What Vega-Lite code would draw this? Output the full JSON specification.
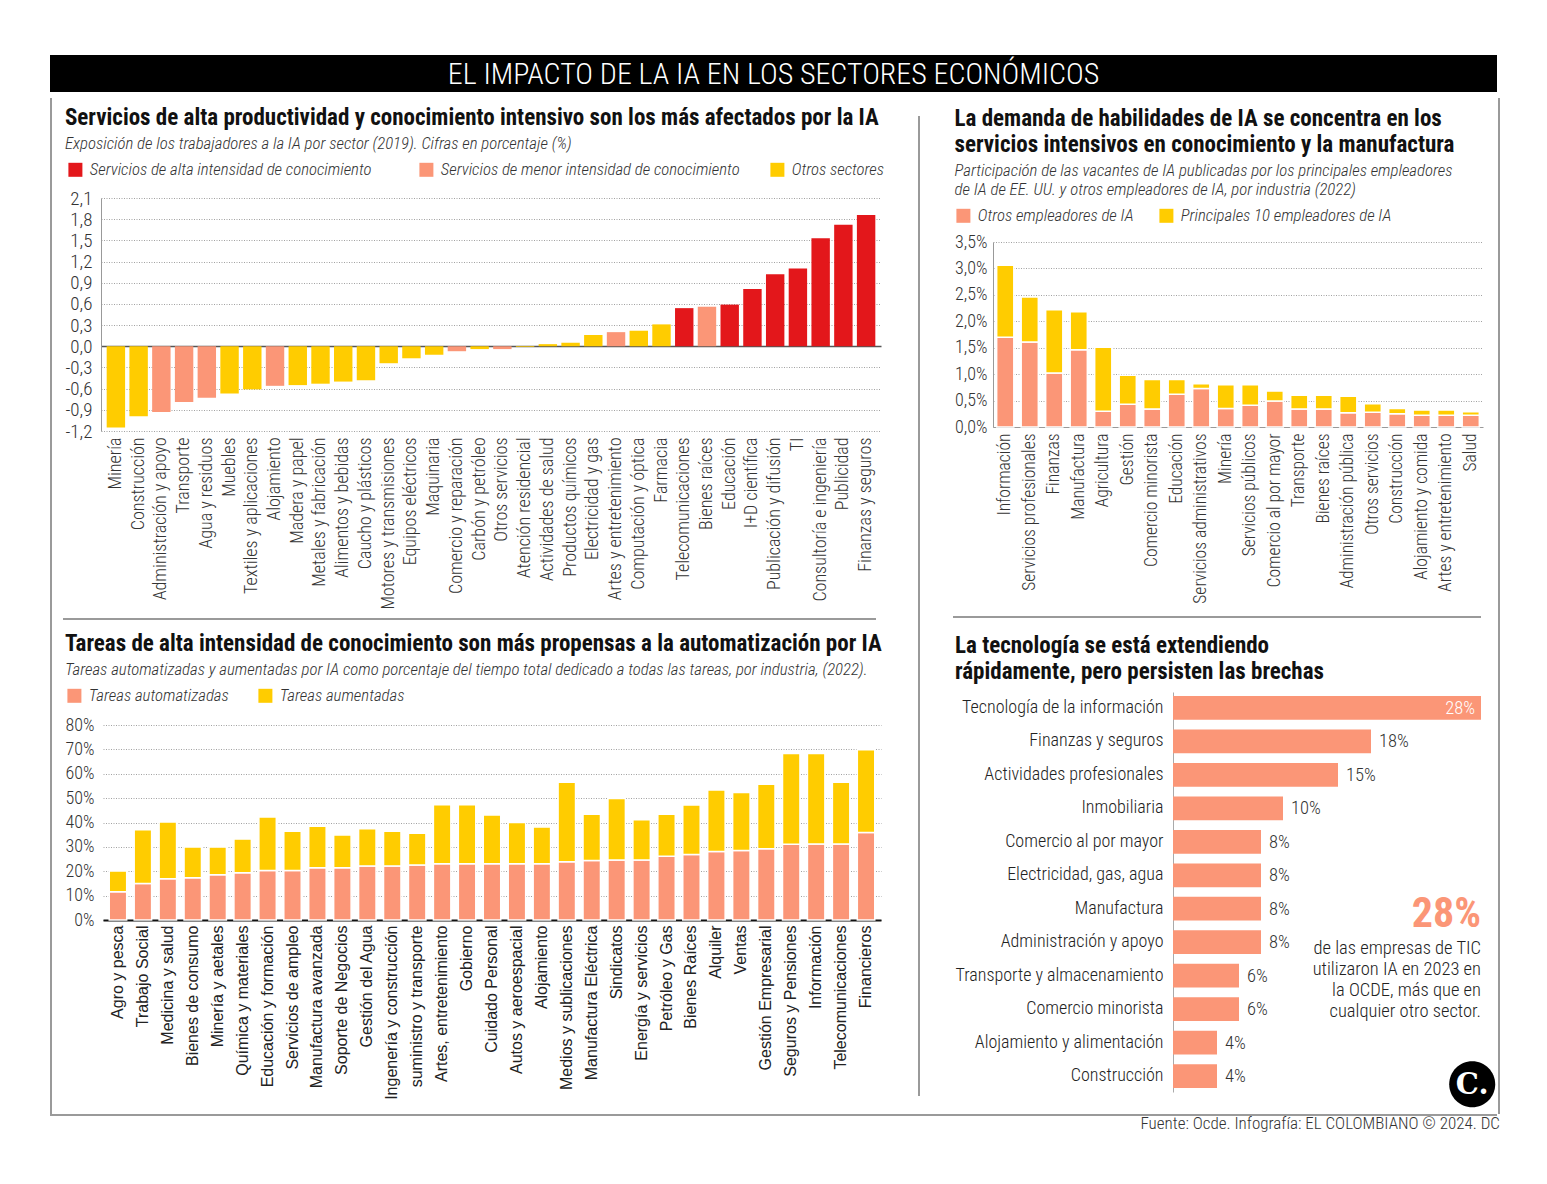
{
  "$schema": "https://vega.github.io/schema/vega-lite/v6.json",
  "background": "white",
  "autosize": {"type": "pad"},
  "padding": {"left": 50, "top": 55, "right": 48, "bottom": 40},
  "config": {
    "font": "Roboto Condensed, Liberation Sans Narrow, DejaVu Sans Condensed, Roboto, sans-serif",
    "view": {"stroke": null},
    "axis": {"labelFont": "Roboto Condensed, Liberation Sans Narrow, DejaVu Sans Condensed, Roboto, sans-serif", "labelFontWeight": 300, "labelColor": "#333", "ticks": false, "gridColor": "#8a8a8a", "gridDash": [1, 1.5], "gridWidth": 0.8, "domainColor": "#999", "labelOverlap": false, "labelLimit": 300},
    "legend": {"labelFont": "Roboto Condensed, Liberation Sans Narrow, DejaVu Sans Condensed, Roboto, sans-serif", "labelFontWeight": 300, "labelFontSize": 16.8, "labelFontStyle": "italic", "labelColor": "#333", "symbolType": "square", "symbolSize": 196, "symbolStrokeWidth": 0, "labelLimit": 400, "labelOffset": 6},
    "title": {"font": "Roboto Condensed, Liberation Sans Narrow, DejaVu Sans Condensed, Roboto, sans-serif", "fontSize": 23, "fontWeight": "bold", "color": "#111", "subtitleFont": "Roboto Condensed, Liberation Sans Narrow, DejaVu Sans Condensed, Roboto, sans-serif", "subtitleFontSize": 16.8, "subtitleFontStyle": "italic", "subtitleFontWeight": 300, "subtitleColor": "#333", "subtitlePadding": 6, "anchor": "start", "frame": "bounds", "lineHeight": 26, "subtitleLineHeight": 19.5},
    "locale": {"number": {"decimal": ",", "thousands": ".", "grouping": [3], "currency": ["$", ""], "minus": "-"}}
  },
  "title": {"text": "Fuente: Ocde. Infografía: EL COLOMBIANO © 2024. DC", "orient": "bottom", "anchor": "end", "frame": "bounds", "fontSize": 17, "fontWeight": 300, "color": "#333", "offset": -4},
  "datasets": {
    "exposicion": [
      {"sector": "Minería", "valor": -1.15, "grupo": "Otros sectores"},
      {"sector": "Construcción", "valor": -0.99, "grupo": "Otros sectores"},
      {"sector": "Administración y apoyo", "valor": -0.93, "grupo": "Servicios de menor intensidad de conocimiento"},
      {"sector": "Transporte", "valor": -0.79, "grupo": "Servicios de menor intensidad de conocimiento"},
      {"sector": "Agua y residuos", "valor": -0.73, "grupo": "Servicios de menor intensidad de conocimiento"},
      {"sector": "Muebles", "valor": -0.67, "grupo": "Otros sectores"},
      {"sector": "Textiles y aplicaciones", "valor": -0.61, "grupo": "Otros sectores"},
      {"sector": "Alojamiento", "valor": -0.56, "grupo": "Servicios de menor intensidad de conocimiento"},
      {"sector": "Madera y papel", "valor": -0.55, "grupo": "Otros sectores"},
      {"sector": "Metales y fabricación", "valor": -0.53, "grupo": "Otros sectores"},
      {"sector": "Alimentos y bebidas", "valor": -0.50, "grupo": "Otros sectores"},
      {"sector": "Caucho y plásticos", "valor": -0.48, "grupo": "Otros sectores"},
      {"sector": "Motores y transmisiones", "valor": -0.24, "grupo": "Otros sectores"},
      {"sector": "Equipos eléctricos", "valor": -0.17, "grupo": "Otros sectores"},
      {"sector": "Maquinaria", "valor": -0.12, "grupo": "Otros sectores"},
      {"sector": "Comercio y reparación", "valor": -0.07, "grupo": "Servicios de menor intensidad de conocimiento"},
      {"sector": "Carbón y petróleo", "valor": -0.04, "grupo": "Otros sectores"},
      {"sector": "Otros servicios", "valor": -0.04, "grupo": "Servicios de menor intensidad de conocimiento"},
      {"sector": "Atención residencial", "valor": -0.01, "grupo": "Otros sectores"},
      {"sector": "Actividades de salud", "valor": 0.03, "grupo": "Otros sectores"},
      {"sector": "Productos químicos", "valor": 0.05, "grupo": "Otros sectores"},
      {"sector": "Electricidad y gas", "valor": 0.16, "grupo": "Otros sectores"},
      {"sector": "Artes y entretenimiento", "valor": 0.20, "grupo": "Servicios de menor intensidad de conocimiento"},
      {"sector": "Computación y óptica", "valor": 0.22, "grupo": "Otros sectores"},
      {"sector": "Farmacia", "valor": 0.31, "grupo": "Otros sectores"},
      {"sector": "Telecomunicaciones", "valor": 0.54, "grupo": "Servicios de alta intensidad de conocimiento"},
      {"sector": "Bienes raíces", "valor": 0.56, "grupo": "Servicios de menor intensidad de conocimiento"},
      {"sector": "Educación", "valor": 0.59, "grupo": "Servicios de alta intensidad de conocimiento"},
      {"sector": "I+D científica", "valor": 0.81, "grupo": "Servicios de alta intensidad de conocimiento"},
      {"sector": "Publicación y difusión", "valor": 1.02, "grupo": "Servicios de alta intensidad de conocimiento"},
      {"sector": "TI", "valor": 1.10, "grupo": "Servicios de alta intensidad de conocimiento"},
      {"sector": "Consultoría e ingeniería", "valor": 1.53, "grupo": "Servicios de alta intensidad de conocimiento"},
      {"sector": "Publicidad", "valor": 1.72, "grupo": "Servicios de alta intensidad de conocimiento"},
      {"sector": "Finanzas y seguros", "valor": 1.86, "grupo": "Servicios de alta intensidad de conocimiento"}
    ],
    "vacantes": [
      {"industria": "Información", "tipo": "Otros empleadores de IA", "valor": 0.0170},
      {"industria": "Información", "tipo": "Principales 10 empleadores de IA", "valor": 0.0136},
      {"industria": "Servicios profesionales", "tipo": "Otros empleadores de IA", "valor": 0.0161},
      {"industria": "Servicios profesionales", "tipo": "Principales 10 empleadores de IA", "valor": 0.0085},
      {"industria": "Finanzas", "tipo": "Otros empleadores de IA", "valor": 0.0102},
      {"industria": "Finanzas", "tipo": "Principales 10 empleadores de IA", "valor": 0.0120},
      {"industria": "Manufactura", "tipo": "Otros empleadores de IA", "valor": 0.0146},
      {"industria": "Manufactura", "tipo": "Principales 10 empleadores de IA", "valor": 0.0072},
      {"industria": "Agricultura", "tipo": "Otros empleadores de IA", "valor": 0.0030},
      {"industria": "Agricultura", "tipo": "Principales 10 empleadores de IA", "valor": 0.0121},
      {"industria": "Gestión", "tipo": "Otros empleadores de IA", "valor": 0.0043},
      {"industria": "Gestión", "tipo": "Principales 10 empleadores de IA", "valor": 0.0055},
      {"industria": "Comercio minorista", "tipo": "Otros empleadores de IA", "valor": 0.0034},
      {"industria": "Comercio minorista", "tipo": "Principales 10 empleadores de IA", "valor": 0.0056},
      {"industria": "Educación", "tipo": "Otros empleadores de IA", "valor": 0.0062},
      {"industria": "Educación", "tipo": "Principales 10 empleadores de IA", "valor": 0.0028},
      {"industria": "Servicios administrativos", "tipo": "Otros empleadores de IA", "valor": 0.0073},
      {"industria": "Servicios administrativos", "tipo": "Principales 10 empleadores de IA", "valor": 0.0009},
      {"industria": "Minería", "tipo": "Otros empleadores de IA", "valor": 0.0035},
      {"industria": "Minería", "tipo": "Principales 10 empleadores de IA", "valor": 0.0045},
      {"industria": "Servicios públicos", "tipo": "Otros empleadores de IA", "valor": 0.0041},
      {"industria": "Servicios públicos", "tipo": "Principales 10 empleadores de IA", "valor": 0.0039},
      {"industria": "Comercio al por mayor", "tipo": "Otros empleadores de IA", "valor": 0.0049},
      {"industria": "Comercio al por mayor", "tipo": "Principales 10 empleadores de IA", "valor": 0.0019},
      {"industria": "Transporte", "tipo": "Otros empleadores de IA", "valor": 0.0034},
      {"industria": "Transporte", "tipo": "Principales 10 empleadores de IA", "valor": 0.0026},
      {"industria": "Bienes raíces", "tipo": "Otros empleadores de IA", "valor": 0.0034},
      {"industria": "Bienes raíces", "tipo": "Principales 10 empleadores de IA", "valor": 0.0026},
      {"industria": "Administración pública", "tipo": "Otros empleadores de IA", "valor": 0.0027},
      {"industria": "Administración pública", "tipo": "Principales 10 empleadores de IA", "valor": 0.0031},
      {"industria": "Otros servicios", "tipo": "Otros empleadores de IA", "valor": 0.0028},
      {"industria": "Otros servicios", "tipo": "Principales 10 empleadores de IA", "valor": 0.0016},
      {"industria": "Construcción", "tipo": "Otros empleadores de IA", "valor": 0.0025},
      {"industria": "Construcción", "tipo": "Principales 10 empleadores de IA", "valor": 0.0010},
      {"industria": "Alojamiento y comida", "tipo": "Otros empleadores de IA", "valor": 0.0022},
      {"industria": "Alojamiento y comida", "tipo": "Principales 10 empleadores de IA", "valor": 0.0010},
      {"industria": "Artes y entretenimiento", "tipo": "Otros empleadores de IA", "valor": 0.0022},
      {"industria": "Artes y entretenimiento", "tipo": "Principales 10 empleadores de IA", "valor": 0.0010},
      {"industria": "Salud", "tipo": "Otros empleadores de IA", "valor": 0.0022},
      {"industria": "Salud", "tipo": "Principales 10 empleadores de IA", "valor": 0.0007}
    ],
    "tareas": [
      {"industria": "Agro y pesca", "tipo": "Tareas automatizadas", "valor": 0.116},
      {"industria": "Agro y pesca", "tipo": "Tareas aumentadas", "valor": 0.085},
      {"industria": "Trabajo Social", "tipo": "Tareas automatizadas", "valor": 0.150},
      {"industria": "Trabajo Social", "tipo": "Tareas aumentadas", "valor": 0.220},
      {"industria": "Medicina y salud", "tipo": "Tareas automatizadas", "valor": 0.169},
      {"industria": "Medicina y salud", "tipo": "Tareas aumentadas", "valor": 0.233},
      {"industria": "Bienes de consumo", "tipo": "Tareas automatizadas", "valor": 0.173},
      {"industria": "Bienes de consumo", "tipo": "Tareas aumentadas", "valor": 0.126},
      {"industria": "Minería y aetales", "tipo": "Tareas automatizadas", "valor": 0.186},
      {"industria": "Minería y aetales", "tipo": "Tareas aumentadas", "valor": 0.113},
      {"industria": "Química y materiales", "tipo": "Tareas automatizadas", "valor": 0.194},
      {"industria": "Química y materiales", "tipo": "Tareas aumentadas", "valor": 0.138},
      {"industria": "Educación y formación", "tipo": "Tareas automatizadas", "valor": 0.203},
      {"industria": "Educación y formación", "tipo": "Tareas aumentadas", "valor": 0.220},
      {"industria": "Servicios de ampleo", "tipo": "Tareas automatizadas", "valor": 0.203},
      {"industria": "Servicios de ampleo", "tipo": "Tareas aumentadas", "valor": 0.161},
      {"industria": "Manufactura avanzada", "tipo": "Tareas automatizadas", "valor": 0.214},
      {"industria": "Manufactura avanzada", "tipo": "Tareas aumentadas", "valor": 0.171},
      {"industria": "Soporte de Negocios", "tipo": "Tareas automatizadas", "valor": 0.214},
      {"industria": "Soporte de Negocios", "tipo": "Tareas aumentadas", "valor": 0.135},
      {"industria": "Gestión del Agua", "tipo": "Tareas automatizadas", "valor": 0.222},
      {"industria": "Gestión del Agua", "tipo": "Tareas aumentadas", "valor": 0.152},
      {"industria": "Ingenería y construcción", "tipo": "Tareas automatizadas", "valor": 0.222},
      {"industria": "Ingenería y construcción", "tipo": "Tareas aumentadas", "valor": 0.142},
      {"industria": "suministro y transporte", "tipo": "Tareas automatizadas", "valor": 0.226},
      {"industria": "suministro y transporte", "tipo": "Tareas aumentadas", "valor": 0.130},
      {"industria": "Artes, entretenimiento", "tipo": "Tareas automatizadas", "valor": 0.231},
      {"industria": "Artes, entretenimiento", "tipo": "Tareas aumentadas", "valor": 0.242},
      {"industria": "Gobierno", "tipo": "Tareas automatizadas", "valor": 0.231},
      {"industria": "Gobierno", "tipo": "Tareas aumentadas", "valor": 0.242},
      {"industria": "Cuidado Personal", "tipo": "Tareas automatizadas", "valor": 0.231},
      {"industria": "Cuidado Personal", "tipo": "Tareas aumentadas", "valor": 0.200},
      {"industria": "Autos y aeroespacial", "tipo": "Tareas automatizadas", "valor": 0.231},
      {"industria": "Autos y aeroespacial", "tipo": "Tareas aumentadas", "valor": 0.169},
      {"industria": "Alojamiento", "tipo": "Tareas automatizadas", "valor": 0.231},
      {"industria": "Alojamiento", "tipo": "Tareas aumentadas", "valor": 0.151},
      {"industria": "Medios y sublicaciones", "tipo": "Tareas automatizadas", "valor": 0.239},
      {"industria": "Medios y sublicaciones", "tipo": "Tareas aumentadas", "valor": 0.326},
      {"industria": "Manufactura Eléctrica", "tipo": "Tareas automatizadas", "valor": 0.244},
      {"industria": "Manufactura Eléctrica", "tipo": "Tareas aumentadas", "valor": 0.190},
      {"industria": "Sindicatos", "tipo": "Tareas automatizadas", "valor": 0.246},
      {"industria": "Sindicatos", "tipo": "Tareas aumentadas", "valor": 0.252},
      {"industria": "Energía y servicios", "tipo": "Tareas automatizadas", "valor": 0.246},
      {"industria": "Energía y servicios", "tipo": "Tareas aumentadas", "valor": 0.165},
      {"industria": "Petróleo y Gas", "tipo": "Tareas automatizadas", "valor": 0.262},
      {"industria": "Petróleo y Gas", "tipo": "Tareas aumentadas", "valor": 0.172},
      {"industria": "Bienes Raíces", "tipo": "Tareas automatizadas", "valor": 0.269},
      {"industria": "Bienes Raíces", "tipo": "Tareas aumentadas", "valor": 0.203},
      {"industria": "Alquiler", "tipo": "Tareas automatizadas", "valor": 0.281},
      {"industria": "Alquiler", "tipo": "Tareas aumentadas", "valor": 0.252},
      {"industria": "Ventas", "tipo": "Tareas automatizadas", "valor": 0.285},
      {"industria": "Ventas", "tipo": "Tareas aumentadas", "valor": 0.238},
      {"industria": "Gestión Empresarial", "tipo": "Tareas automatizadas", "valor": 0.292},
      {"industria": "Gestión Empresarial", "tipo": "Tareas aumentadas", "valor": 0.265},
      {"industria": "Seguros y Pensiones", "tipo": "Tareas automatizadas", "valor": 0.311},
      {"industria": "Seguros y Pensiones", "tipo": "Tareas aumentadas", "valor": 0.372},
      {"industria": "Información", "tipo": "Tareas automatizadas", "valor": 0.312},
      {"industria": "Información", "tipo": "Tareas aumentadas", "valor": 0.371},
      {"industria": "Telecomunicaciones", "tipo": "Tareas automatizadas", "valor": 0.312},
      {"industria": "Telecomunicaciones", "tipo": "Tareas aumentadas", "valor": 0.253},
      {"industria": "Financieros", "tipo": "Tareas automatizadas", "valor": 0.359},
      {"industria": "Financieros", "tipo": "Tareas aumentadas", "valor": 0.339}
    ],
    "adopcion": [
      {"sector": "Tecnología de la información", "valor": 0.28},
      {"sector": "Finanzas y seguros", "valor": 0.18},
      {"sector": "Actividades profesionales", "valor": 0.15},
      {"sector": "Inmobiliaria", "valor": 0.10},
      {"sector": "Comercio al por mayor", "valor": 0.08},
      {"sector": "Electricidad, gas, agua", "valor": 0.08},
      {"sector": "Manufactura", "valor": 0.08},
      {"sector": "Administración y apoyo", "valor": 0.08},
      {"sector": "Transporte y almacenamiento", "valor": 0.06},
      {"sector": "Comercio minorista", "valor": 0.06},
      {"sector": "Alojamiento y alimentación", "valor": 0.04},
      {"sector": "Construcción", "valor": 0.04}
    ]
  },
  "resolve": {"scale": {"color": "independent", "x": "independent", "y": "independent"}, "legend": {"color": "independent"}},
  "columns": 1,
  "align": "each",
  "spacing": 0,
  "concat": [
    {
      "width": 1447, "height": 37,
      "view": {"fill": "#000000", "stroke": null},
      "data": {"values": [{"t": "EL IMPACTO DE LA IA EN LOS SECTORES ECONÓMICOS"}]},
      "mark": {"type": "text", "color": "white", "fontSize": 30, "fontWeight": 300, "align": "center", "baseline": "middle", "dy": 1},
      "encoding": {"text": {"field": "t"}}
    },
    {
      "columns": 1, "align": "each", "spacing": -20,
      "resolve": {"scale": {"color": "independent", "x": "independent", "y": "independent"}, "legend": {"color": "independent"}},
      "concat": [
        {
          "columns": 2, "align": "each", "spacing": 2,
          "resolve": {"scale": {"color": "independent", "x": "independent", "y": "independent"}, "legend": {"color": "independent"}},
          "concat": [
            {
              "columns": 2, "align": "each", "spacing": 11,
              "resolve": {"scale": {"color": "independent", "x": "independent", "y": "independent"}, "legend": {"color": "independent"}},
              "concat": [
                {
                  "width": 2, "height": 1016,
                  "view": {"fill": "#9a9a9a", "stroke": null},
                  "data": {"values": [{"a": 1}]},
                  "mark": {"type": "text"},
                  "encoding": {"text": {"value": ""}}
                },
                {
                  "columns": 3, "align": "each", "spacing": 33,
                  "resolve": {"scale": {"color": "independent", "x": "independent", "y": "independent"}, "legend": {"color": "independent"}},
                  "concat": [
                    {
                      "columns": 1, "align": "each", "spacing": 3,
                      "resolve": {"scale": {"color": "independent", "x": "independent", "y": "independent"}, "legend": {"color": "independent"}},
                      "concat": [
                        {
                          "columns": 2, "align": "each", "spacing": 0,
                          "resolve": {"scale": {"color": "independent", "x": "independent", "y": "independent"}, "legend": {"color": "independent"}},
                          "concat": [
                            {"width": 1, "height": 8, "data": {"values": [{"a": 1}]}, "mark": {"type": "text"}, "encoding": {"text": {"value": ""}}},
                            {"width": 1, "height": 1, "data": {"values": [{"a": 1}]}, "mark": {"type": "text"}, "encoding": {"text": {"value": ""}}},
                            {"width": 1, "height": 1, "data": {"values": [{"a": 1}]}, "mark": {"type": "text"}, "encoding": {"text": {"value": ""}}},
                            {
                              "width": 780, "height": 233,
                              "title": {"text": "Servicios de alta productividad y conocimiento intensivo son los más afectados por la IA", "subtitle": "Exposición de los trabajadores a la IA por sector (2019). Cifras en porcentaje (%)", "offset": 8},
                              "data": {"name": "exposicion"},
                              "mark": {"type": "bar"},
                              "encoding": {
                                "x": {"field": "sector", "type": "nominal", "sort": null, "title": null, "scale": {"paddingInner": 0.19, "paddingOuter": 0.25}, "axis": {"labelAngle": -90, "labelAlign": "right", "labelBaseline": "middle", "labelPadding": 6, "domain": false, "labelFontSize": 18}},
                                "y": {"field": "valor", "type": "quantitative", "title": null, "scale": {"domain": [-1.2, 2.1], "nice": false, "zero": false}, "axis": {"values": [-1.2, -0.9, -0.6, -0.3, 0, 0.3, 0.6, 0.9, 1.2, 1.5, 1.8, 2.1], "format": ".1f", "grid": true, "gridColor": {"condition": {"test": "abs(datum.value) < 0.001", "value": "#555"}, "value": "#8a8a8a"}, "gridDash": {"condition": {"test": "abs(datum.value) < 0.001", "value": []}, "value": [1, 1.5]}, "gridWidth": {"condition": {"test": "abs(datum.value) < 0.001", "value": 1.3}, "value": 0.8}, "domain": true, "labelFontSize": 19, "labelPadding": 9}},
                                "color": {"field": "grupo", "type": "nominal", "title": null, "scale": {"domain": ["Servicios de alta intensidad de conocimiento", "Servicios de menor intensidad de conocimiento", "Otros sectores"], "range": ["#e3171b", "#fb9677", "#ffcc00"]}, "legend": {"orient": "none", "legendX": -34, "legendY": -37, "direction": "horizontal", "columns": 3, "gridAlign": "all", "columnPadding": 29}}
                              }
                            }
                          ]
                        },
                        {
                          "columns": 1, "align": "each", "spacing": -3,
                          "resolve": {"scale": {"color": "independent", "x": "independent", "y": "independent"}, "legend": {"color": "independent"}},
                          "concat": [
                            {
                              "width": 813, "height": 2,
                              "view": {"fill": "#9a9a9a", "stroke": null},
                              "data": {"values": [{"a": 1}]},
                              "mark": {"type": "text"},
                              "encoding": {"text": {"value": ""}}
                            },
                            {
                              "columns": 2, "align": "each", "spacing": 0,
                              "resolve": {"scale": {"color": "independent", "x": "independent", "y": "independent"}, "legend": {"color": "independent"}},
                              "concat": [
                                {"width": 1, "height": 1, "data": {"values": [{"a": 1}]}, "mark": {"type": "text"}, "encoding": {"text": {"value": ""}}},
                                {"width": 1, "height": 1, "data": {"values": [{"a": 1}]}, "mark": {"type": "text"}, "encoding": {"text": {"value": ""}}},
                                {"width": 1, "height": 1, "data": {"values": [{"a": 1}]}, "mark": {"type": "text"}, "encoding": {"text": {"value": ""}}},
                                {
                                  "width": 778, "height": 195,
                                  "title": {"text": "Tareas de alta intensidad de conocimiento son más propensas a la automatización por IA", "subtitle": "Tareas automatizadas y aumentadas por IA como porcentaje del tiempo total dedicado a todas las tareas, por industria, (2022).", "offset": 8},
                                  "data": {"name": "tareas"},
                                  "mark": {"type": "bar", "stroke": "white", "strokeWidth": 1.5},
                                  "encoding": {
                                    "x": {"field": "industria", "type": "nominal", "sort": null, "title": null, "scale": {"paddingInner": 0.3, "paddingOuter": 0.25}, "axis": {"labelAngle": -90, "labelAlign": "right", "labelBaseline": "middle", "labelFont": "Liberation Sans, Arial, sans-serif", "labelFontWeight": "normal", "labelFontSize": 16, "labelColor": "#222", "domain": true, "domainColor": "#111", "domainWidth": 2, "labelPadding": 5}},
                                    "y": {"field": "valor", "type": "quantitative", "stack": "zero", "title": null, "scale": {"domain": [0, 0.8], "nice": false}, "axis": {"format": ".0%", "values": [0, 0.1, 0.2, 0.3, 0.4, 0.5, 0.6, 0.7, 0.8], "grid": true, "domain": false, "labelFontSize": 18, "labelPadding": 9}},
                                    "color": {"field": "tipo", "type": "nominal", "title": null, "scale": {"domain": ["Tareas automatizadas", "Tareas aumentadas"], "range": ["#fb9677", "#ffcc00"]}, "legend": {"orient": "none", "legendX": -37, "legendY": -38, "direction": "horizontal", "columnPadding": 28}},
                                    "order": {"field": "tipo", "sort": "descending"}
                                  }
                                }
                              ]
                            }
                          ]
                        }
                      ]
                    },
                    {
                      "columns": 1, "align": "each", "spacing": 0,
                      "concat": [
                        {"width": 1, "height": 18, "data": {"values": [{"a": 1}]}, "mark": {"type": "text"}, "encoding": {"text": {"value": ""}}},
                        {
                          "width": 2, "height": 980,
                          "view": {"fill": "#9a9a9a", "stroke": null},
                          "data": {"values": [{"a": 1}]},
                          "mark": {"type": "text"},
                          "encoding": {"text": {"value": ""}}
                        }
                      ]
                    },
                    {
                      "columns": 1, "align": "each", "spacing": 7,
                      "resolve": {"scale": {"color": "independent", "x": "independent", "y": "independent"}, "legend": {"color": "independent"}},
                      "concat": [
                        {
                          "columns": 2, "align": "each", "spacing": 0,
                          "resolve": {"scale": {"color": "independent", "x": "independent", "y": "independent"}, "legend": {"color": "independent"}},
                          "concat": [
                            {"width": 1, "height": 7, "data": {"values": [{"a": 1}]}, "mark": {"type": "text"}, "encoding": {"text": {"value": ""}}},
                            {"width": 1, "height": 1, "data": {"values": [{"a": 1}]}, "mark": {"type": "text"}, "encoding": {"text": {"value": ""}}},
                            {"width": 1, "height": 1, "data": {"values": [{"a": 1}]}, "mark": {"type": "text"}, "encoding": {"text": {"value": ""}}},
                            {
                              "width": 490, "height": 185,
                              "title": {"text": ["La demanda de habilidades de IA se concentra en los", "servicios intensivos en conocimiento y la manufactura"], "subtitle": ["Participación de las vacantes de IA publicadas por los principales empleadores", "de IA de EE. UU. y otros empleadores de IA, por industria (2022)"], "offset": 8},
                              "data": {"name": "vacantes"},
                              "mark": {"type": "bar", "stroke": "white", "strokeWidth": 1.5},
                              "encoding": {
                                "x": {"field": "industria", "type": "nominal", "sort": null, "title": null, "scale": {"paddingInner": 0.3, "paddingOuter": 0.15}, "axis": {"labelAngle": -90, "labelAlign": "right", "labelBaseline": "middle", "labelPadding": 6, "domain": true, "domainColor": "#999", "labelFontSize": 17.5}},
                                "y": {"field": "valor", "type": "quantitative", "stack": "zero", "title": null, "scale": {"domain": [0, 0.035], "nice": false}, "axis": {"format": ".1%", "values": [0, 0.005, 0.01, 0.015, 0.02, 0.025, 0.03, 0.035], "grid": true, "domain": true, "labelFontSize": 18, "labelPadding": 6}},
                                "color": {"field": "tipo", "type": "nominal", "title": null, "scale": {"domain": ["Otros empleadores de IA", "Principales 10 empleadores de IA"], "range": ["#fb9677", "#ffcc00"]}, "legend": {"orient": "none", "legendX": -38, "legendY": -35, "direction": "horizontal", "columnPadding": 24}},
                                "order": {"field": "tipo", "sort": "ascending"}
                              }
                            }
                          ]
                        },
                        {
                          "columns": 1, "align": "each", "spacing": 1,
                          "resolve": {"scale": {"color": "independent", "x": "independent", "y": "independent"}, "legend": {"color": "independent"}},
                          "concat": [
                            {
                              "width": 528, "height": 2,
                              "view": {"fill": "#9a9a9a", "stroke": null},
                              "data": {"values": [{"a": 1}]},
                              "mark": {"type": "text"},
                              "encoding": {"text": {"value": ""}}
                            },
                            {
                              "columns": 2, "align": "each", "spacing": 0,
                              "resolve": {"scale": {"color": "independent", "x": "independent", "y": "independent"}, "legend": {"color": "independent"}},
                              "concat": [
                                {"width": 1, "height": 1, "data": {"values": [{"a": 1}]}, "mark": {"type": "text"}, "encoding": {"text": {"value": ""}}},
                                {"width": 1, "height": 1, "data": {"values": [{"a": 1}]}, "mark": {"type": "text"}, "encoding": {"text": {"value": ""}}},
                                {"width": 1, "height": 1, "data": {"values": [{"a": 1}]}, "mark": {"type": "text"}, "encoding": {"text": {"value": ""}}},
                                {
                                  "width": 308, "height": 400,
                                  "title": {"text": ["La tecnología se está extendiendo", "rápidamente, pero persisten las brechas"], "offset": 8},
                                  "data": {"name": "adopcion"},
                                  "encoding": {
                                    "y": {"field": "sector", "type": "nominal", "sort": null, "title": null, "scale": {"paddingInner": 0.29, "paddingOuter": 0.12}, "axis": {"labelFontSize": 18, "labelColor": "#222", "labelPadding": 10, "domain": true, "domainColor": "#aaa"}},
                                    "x": {"field": "valor", "type": "quantitative", "title": null, "scale": {"domain": [0, 0.28], "nice": false}, "axis": null}
                                  },
                                  "layer": [
                                    {"mark": {"type": "bar", "color": "#fb9677"}},
                                    {
                                      "transform": [{"filter": "datum.valor < 0.28"}],
                                      "mark": {"type": "text", "align": "left", "baseline": "middle", "dx": 8, "fontSize": 18.5, "fontWeight": 300, "color": "#333"},
                                      "encoding": {"text": {"field": "valor", "type": "quantitative", "format": ".0%"}}
                                    },
                                    {
                                      "transform": [{"filter": "datum.valor >= 0.28"}],
                                      "mark": {"type": "text", "align": "right", "baseline": "middle", "dx": -6, "fontSize": 18.5, "fontWeight": 300, "color": "white"},
                                      "encoding": {"text": {"field": "valor", "type": "quantitative", "format": ".0%"}}
                                    },
                                    {
                                      "transform": [{"filter": "datum.sector === 'Manufactura'"}],
                                      "mark": {"type": "text", "align": "right", "baseline": "middle", "dy": 5, "fontSize": 42, "fontWeight": "bold", "color": "#fb9677"},
                                      "encoding": {"x": {"datum": 0.28}, "text": {"value": "28%"}}
                                    },
                                    {
                                      "transform": [{"filter": "datum.sector === 'Administración y apoyo'"}],
                                      "mark": {"type": "text", "align": "right", "baseline": "middle", "dy": 6, "fontSize": 18.5, "fontWeight": 300, "lineHeight": 21, "color": "#222"},
                                      "encoding": {"x": {"datum": 0.28}, "text": {"value": ["de las empresas de TIC", "utilizaron IA en 2023 en", "la OCDE, más que en", "cualquier otro sector."]}}
                                    },
                                    {
                                      "transform": [{"filter": "datum.sector === 'Construcción'"}],
                                      "mark": {"type": "point", "filled": true, "color": "#000", "size": 2116, "opacity": 1, "shape": "M -1 0.35 A 1 1 0 1 1 1 0.35 A 1 1 0 1 1 -1 0.35 Z"},
                                      "encoding": {"x": {"datum": 0.272}}
                                    },
                                    {
                                      "transform": [{"filter": "datum.sector === 'Construcción'"}],
                                      "mark": {"type": "text", "align": "center", "baseline": "middle", "dy": 9, "font": "DejaVu Serif", "fontWeight": "bold", "fontSize": 29, "color": "#ffffff"},
                                      "encoding": {"x": {"datum": 0.272}, "text": {"value": "C."}}
                                    }
                                  ]
                                }
                              ]
                            }
                          ]
                        }
                      ]
                    }
                  ]
                }
              ]
            },
            {
              "width": 2, "height": 1016,
              "view": {"fill": "#9a9a9a", "stroke": null},
              "data": {"values": [{"a": 1}]},
              "mark": {"type": "text"},
              "encoding": {"text": {"value": ""}}
            }
          ]
        },
        {
          "width": 1447, "height": 2,
          "view": {"fill": "#9a9a9a", "stroke": null},
          "data": {"values": [{"a": 1}]},
          "mark": {"type": "text"},
          "encoding": {"text": {"value": ""}}
        }
      ]
    }
  ]
}
